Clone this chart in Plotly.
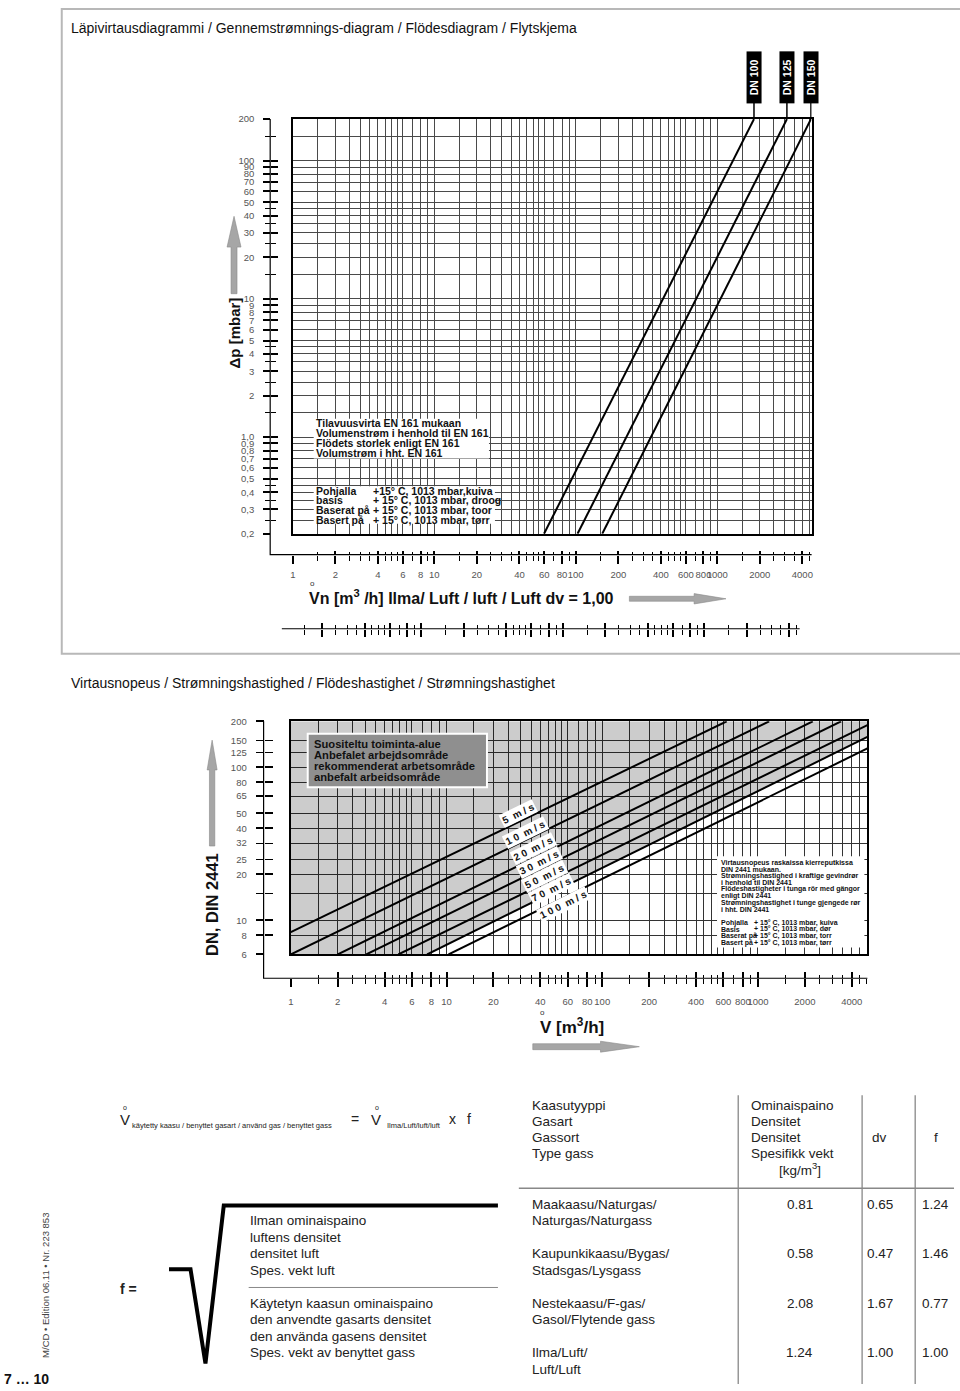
import math
import plotly.graph_objects as go

W, H = 960, 1391


def X(p):
    return p / W


def Y(p):
    return 1 - p / H


def lg(v):
    return math.log10(v)


# ------------------------------------------------------------------ data
grid_mult = [1, 1.5, 2, 2.5, 3, 3.5, 4, 4.5, 5, 5.5, 6, 7, 8, 9]
flow_decades = [1, 10, 100, 1000]
flow_major = [1, 2, 4, 6, 8, 10, 20, 40, 60, 80, 100, 200, 400, 600, 800, 1000, 2000, 4000]
flow_labels = ['1', '2', '4', '6', '8', '10', '20', '40', '60', '80', '100', '200',
               '400', '600', '800', '1000', '2000', '4000']

dp_mult = [1, 1.5, 2, 2.5, 3, 3.5, 4, 4.5, 5, 6, 7, 8, 9]
dp_decades = [0.1, 1, 10, 100]
dp_major = [200, 100, 90, 80, 70, 60, 50, 40, 30, 20, 10, 9, 8, 7, 6, 5, 4, 3, 2,
            1, 0.9, 0.8, 0.7, 0.6, 0.5, 0.4, 0.3, 0.2]
dp_labels = ['200', '100', '90', '80', '70', '60', '50', '40', '30', '20', '10', '9', '8',
             '7', '6', '5', '4', '3', '2', '1,0', '0,9', '0,8', '0,7', '0,6', '0,5', '0,4',
             '0,3', '0,2']
dp_minor = [150, 45, 35, 25, 15, 4.5, 3.5, 2.5, 1.5, 0.45, 0.35, 0.25]
dp_range = [0.2, 200]
top_flow_range = [1, 4650]

dn_names = ['DN 100', 'DN 125', 'DN 150']
dn_dp = [0.2, 200]
dn_flow_low = [59.7, 103, 154]
dn_flow_high = [1820, 3110, 4600]

# velocity chart
bot_flow_range = [1, 5040]
dn_size_range = [6, 200]
dn_size_labels = [200, 150, 125, 100, 80, 65, 50, 40, 32, 25, 20, 10, 8, 6]
dn_size_thick = [200, 100, 80, 65, 50, 40, 20, 10, 8, 6]
dn_size_thin = [150, 125, 32, 25, 15]
dn_size_grid = [150, 125, 100, 80, 65, 50, 40, 32, 25, 20, 15, 10, 8]

vel_names = ['5 m/s', '10 m/s', '20 m/s', '30 m/s', '50 m/s', '70 m/s', '100 m/s']
vel_flow_start = [1.0, 1.0, 2.0, 3.05, 4.9, 7.5, 10.3]
vel_dn_start = [8.4, 6, 6, 6, 6, 6, 6]
vel_flow_end = [630, 1180, 2250, 3420, 5040, 5040, 5040]
vel_dn_end = [200, 200, 200, 200, 189, 158, 133]
recommended_limit = 5  # index of velocity line bounding the shaded area

# gas table
gas_names = [['Maakaasu/Naturgas/', 'Naturgas/Naturgass'],
             ['Kaupunkikaasu/Bygas/', 'Stadsgas/Lysgass'],
             ['Nestekaasu/F-gas/', 'Gasol/Flytende gass'],
             ['Ilma/Luft/', 'Luft/Luft']]
gas_density = ['0.81', '0.58', '2.08', '1.24']
gas_dv = ['0.65', '0.47', '1.67', '1.00']
gas_f = ['1.24', '1.46', '0.77', '1.00']

# ------------------------------------------------------------------ helpers
FONT = 'Liberation Sans, Arial, Helvetica, sans-serif'
GRID = '#4a4a4a'
TICKFONT = dict(family=FONT, size=9.5, color='#555555')


def grid_values(decades, mult, lo, hi):
    out = []
    for d in decades:
        for m in mult:
            v = round(m * d, 6)
            if lo - 1e-9 <= v <= hi + 1e-9:
                out.append(v)
    return sorted(set(out))


def minus(a, b):
    bs = {round(v, 6) for v in b}
    return [v for v in a if round(v, 6) not in bs]


layout = dict(width=W, height=H, margin=dict(l=0, r=0, t=0, b=0),
              paper_bgcolor='white', plot_bgcolor='rgba(0,0,0,0)', showlegend=False,
              font=dict(family=FONT, color='#222'))
traces = []


def dummy(xa, ya):
    traces.append(go.Scatter(x=[None], y=[None], xaxis=xa, yaxis=ya, mode='markers',
                             hoverinfo='skip', showlegend=False))


def tick_axis(rng, pos, major, minor, direction, lmaj, lmin, side, overlay=None,
              domain=None, typ='log'):
    d = dict(type=typ, range=rng, anchor='free', position=pos, side=side,
             tickmode='array', tickvals=major, ticks=direction, ticklen=lmaj, tickwidth=2,
             tickcolor='black', showticklabels=False, showgrid=False, zeroline=False,
             showline=False,
             minor=dict(tickmode='array', tickvals=minor, ticks=direction, ticklen=lmin,
                        tickwidth=1, tickcolor='black', showgrid=False))
    if overlay:
        d['overlaying'] = overlay
    if domain:
        d['domain'] = domain
    return d


def label_axis(rng, pos, vals, texts, offset, side, overlay):
    return dict(type='log', range=rng, anchor='free', position=pos, overlaying=overlay,
                side=side, tickmode='array', tickvals=vals, ticktext=texts, ticks='outside',
                ticklen=offset, tickcolor='rgba(0,0,0,0)', showgrid=False, zeroline=False,
                showline=False, tickfont=TICKFONT, tickangle=0)


def main_axis(domain, rng, grid, anchor, gw=1, gc=GRID):
    return dict(domain=domain, type='log', range=rng, anchor=anchor, tickmode='array',
                tickvals=grid, showticklabels=False, ticks='', showgrid=True,
                gridcolor=gc, gridwidth=gw, showline=True, mirror=True, linecolor='black',
                linewidth=2, zeroline=False)


# ------------------------------------------------------------------ top chart
top_x_rng = [lg(top_flow_range[0]), lg(top_flow_range[1])]
top_y_rng = [lg(dp_range[0]), lg(dp_range[1])]
top_x_grid = grid_values(flow_decades, grid_mult, *top_flow_range)
top_y_grid = grid_values(dp_decades, dp_mult, *dp_range)

layout['xaxis'] = main_axis([X(291), X(812)], top_x_rng, top_x_grid, 'y')
layout['yaxis'] = main_axis([Y(532), Y(114)], top_y_rng, top_y_grid, 'x')

top_minor_x = minus(top_x_grid, flow_major)
layout['xaxis2'] = tick_axis(top_x_rng, Y(553), flow_major, top_minor_x, 'outside', 8, 5,
                             'bottom', overlay='x')
layout['xaxis3'] = tick_axis(top_x_rng, Y(553), flow_major, top_minor_x, 'inside', 4, 3,
                             'bottom', overlay='x')
layout['xaxis4'] = label_axis(top_x_rng, Y(553), flow_major, flow_labels, 11, 'bottom', 'x')
for xa in ['x2', 'x3', 'x4']:
    dummy(xa, 'y')

layout['yaxis2'] = tick_axis(top_y_rng, X(268.3), dp_major, dp_minor, 'outside', 7, 5,
                             'left', overlay='y')
layout['yaxis3'] = tick_axis(top_y_rng, X(268.3), dp_major, dp_minor, 'inside', 7, 5,
                             'left', overlay='y')
layout['yaxis4'] = label_axis(top_y_rng, X(268.3), dp_major, dp_labels, 14, 'left', 'y')
for ya in ['y2', 'y3', 'y4']:
    dummy('x', ya)

# secondary flow ruler (natural gas, shifted by factor f)
dec_px = (812 - 291) / (top_x_rng[1] - top_x_rng[0])
shift = lg(float(gas_f[0]))
r2_left, r2_right = 278, 800
r2_rng = [(r2_left - 291) / dec_px + shift, (r2_right - 291) / dec_px + shift]
r2_vals = [v for v in top_x_grid if lg(v) <= r2_rng[1]]
r2_major = [v for v in flow_major if v in r2_vals]
r2_minor = minus(r2_vals, r2_major)
layout['yaxis5'] = dict(domain=[Y(640), Y(615)], range=[0, 1], visible=False, anchor='x5')
layout['xaxis5'] = tick_axis(r2_rng, Y(627.7), r2_major, r2_minor, 'outside', 7, 5,
                             'bottom', domain=[X(r2_left), X(r2_right)])
layout['xaxis6'] = tick_axis(r2_rng, Y(627.7), r2_major, r2_minor, 'inside', 6, 4,
                             'bottom', overlay='x5')
dummy('x5', 'y5')
dummy('x6', 'y5')

# DN lines
for i, name in enumerate(dn_names):
    traces.append(go.Scatter(x=[dn_flow_low[i], dn_flow_high[i]], y=dn_dp, xaxis='x',
                             yaxis='y', mode='lines', line=dict(color='black', width=2),
                             hoverinfo='skip', showlegend=False))

# ------------------------------------------------------------------ bottom chart
bot_x_rng = [lg(bot_flow_range[0]), lg(bot_flow_range[1])]
bot_y_rng = [lg(dn_size_range[0]), lg(dn_size_range[1])]
bot_x_grid = grid_values(flow_decades, grid_mult, *bot_flow_range)
layout['xaxis7'] = main_axis([X(289), X(868)], bot_x_rng, bot_x_grid, 'y6', gw=1.2,
                             gc='#333333')
layout['yaxis6'] = main_axis([Y(956), Y(721)], bot_y_rng, dn_size_grid, 'x7', gw=1.2,
                             gc='#333333')
bot_minor_x = minus(bot_x_grid, flow_major)
layout['xaxis8'] = tick_axis(bot_x_rng, Y(980), flow_major, bot_minor_x, 'outside', 8, 5,
                             'bottom', overlay='x7')
layout['xaxis9'] = tick_axis(bot_x_rng, Y(980), flow_major, bot_minor_x, 'inside', 6, 3,
                             'bottom', overlay='x7')
layout['xaxis10'] = label_axis(bot_x_rng, Y(980), flow_major, flow_labels, 14, 'bottom',
                               'x7')
for xa in ['x8', 'x9', 'x10']:
    dummy(xa, 'y6')
layout['yaxis7'] = tick_axis(bot_y_rng, X(261.7), dn_size_thick, dn_size_thin, 'outside',
                             8, 8, 'left', overlay='y6')
layout['yaxis8'] = tick_axis(bot_y_rng, X(261.7), dn_size_thick, dn_size_thin, 'inside',
                             8, 8, 'left', overlay='y6')
layout['yaxis9'] = label_axis(bot_y_rng, X(261.7), dn_size_labels,
                              [str(v) for v in dn_size_labels], 15, 'left', 'y6')
for ya in ['y7', 'y8', 'y9']:
    dummy('x7', ya)

# shaded recommended area (above the limiting velocity line)
k = recommended_limit
poly_x = [vel_flow_start[k], vel_flow_end[k], bot_flow_range[1], bot_flow_range[0],
          bot_flow_range[0], vel_flow_start[k]]
poly_y = [vel_dn_start[k], vel_dn_end[k], dn_size_range[1], dn_size_range[1],
          dn_size_range[0], vel_dn_start[k]]
traces.insert(0, go.Scatter(x=poly_x, y=poly_y, xaxis='x7', yaxis='y6', mode='none',
                            fill='toself', fillcolor='rgba(0,0,0,0.2)', hoverinfo='skip',
                            showlegend=False))

for i, name in enumerate(vel_names):
    traces.append(go.Scatter(x=[vel_flow_start[i], vel_flow_end[i]],
                             y=[vel_dn_start[i], vel_dn_end[i]], xaxis='x7', yaxis='y6',
                             mode='lines', line=dict(color='black', width=2),
                             hoverinfo='skip', showlegend=False))

# ------------------------------------------------------------------ shapes
shapes = []


def pline(pts, color='black', width=1, fill=None, close=False, layer='above'):
    p = 'M ' + ' L '.join(f'{X(a):.5f},{Y(b):.5f}' for a, b in pts)
    if close:
        p += ' Z'
    s = dict(type='path', path=p, xref='paper', yref='paper', layer=layer,
             line=dict(color=color, width=width))
    if fill:
        s['fillcolor'] = fill
    shapes.append(s)


def prect(x0, y0, x1, y1, fill, line='rgba(0,0,0,0)', width=0, layer='above'):
    shapes.append(dict(type='rect', xref='paper', yref='paper', x0=X(x0), x1=X(x1),
                       y0=Y(y1), y1=Y(y0), fillcolor=fill, layer=layer,
                       line=dict(color=line, width=width)))


# page frame
pline([(962, 3), (59, 3), (59, 653), (962, 653)], color='#b8b8b8', width=2)

# ruler lines
pline([(268.3, 114), (268.3, 553), (812, 553)], width=1.2)
pline([(r2_left + 2, 627.7), (r2_right, 627.7)], width=1.2)
pline([(261.7, 721), (261.7, 980), (868, 980)], width=1.2)

# DN connectors (data x on the flow axis)
for i in range(3):
    shapes.append(dict(type='line', xref='x', yref='paper', x0=dn_flow_high[i],
                       x1=dn_flow_high[i], y0=Y(114), y1=Y(97),
                       line=dict(color='black', width=1.5)))

# text boxes in top chart
prect(312, 416, 488, 456, 'white')
prect(312, 484, 494, 522, 'white')
# recommended-area label box
prect(306, 733.5, 486, 787.5, '#8f8f8f', line='white', width=2)
# right text box bottom chart
prect(717, 857, 865, 949, 'white')

# arrows
ARROW = '#a6a6a6'
pline([(629, 595), (694, 595), (694, 592.3), (726, 597.5), (694, 602.7), (694, 600),
       (629, 600)], color='#8a8a8a', width=0.6, fill=ARROW, close=True)
pline([(229, 290), (229, 243), (225, 243), (232, 212), (239, 243), (235, 243),
       (235, 290)], color='#8a8a8a', width=0.6, fill=ARROW, close=True)
pline([(207.3, 846.7), (207.3, 770), (205, 770), (210, 740), (215, 770), (212.7, 770),
       (212.7, 846.7)], color='#8a8a8a', width=0.6, fill=ARROW, close=True)
pline([(532, 1046), (600, 1046), (600, 1043.5), (639, 1049), (600, 1054.5), (600, 1052),
       (532, 1052)], color='#8a8a8a', width=0.6, fill=ARROW, close=True)

# radical sign and fraction line
pline([(166.7, 1273.3), (188.3, 1273.3), (203.3, 1368.3), (221.7, 1209), (497, 1209)],
      width=4)
pline([(246.7, 1291.7), (497, 1291.7)], color='#888888', width=1)

# table lines
for xv in [738.3, 862.7, 916]:
    pline([(xv, 1098), (xv, 1389)], color='#888888', width=1.3)
pline([(518, 1191.7), (955, 1191.7)], color='#888888', width=1.3)

# ------------------------------------------------------------------ annotations
ann = []


def text(x, y, s, size=13.5, bold=False, color='#222222', xanchor='left',
         yanchor='middle', angle=0, family=FONT, **kw):
    ann.append(dict(x=X(x), y=Y(y), xref='paper', yref='paper',
                    text=f'<b>{s}</b>' if bold else s, showarrow=False, xanchor=xanchor,
                    yanchor=yanchor, textangle=angle, borderpad=0,
                    font=dict(size=size, color=color, family=family), **kw))


text(67, 22, 'Läpivirtausdiagrammi / Gennemstrømnings-diagram / Flödesdiagram / Flytskjema',
     size=14, color='#111111')
text(67, 682, 'Virtausnopeus / Strømningshastighed / Flödeshastighet / Strømningshastighet',
     size=14, color='#111111')

# DN labels
for i, name in enumerate(dn_names):
    ann.append(dict(x=lg(dn_flow_high[i]), y=Y(71.5), xref='x', yref='paper',
                    text=f'<b>{name}</b>', showarrow=False, textangle=-90, bgcolor='black',
                    width=51, height=14, borderpad=0, xanchor='center', yanchor='middle',
                    font=dict(size=10.5, color='white', family=FONT)))

# top chart text blocks
blk1 = ['Tilavuusvirta EN 161 mukaan', 'Volumenstrøm i henhold til EN 161',
        'Flödets storlek enligt EN 161', 'Volumstrøm i hht. EN 161']
for i, s in enumerate(blk1):
    text(313.5, 420.5 + i * 9.9, s, size=10.5, bold=True, color='#111111')
blk2a = ['Pohjalla', 'basis', 'Baserat på', 'Basert på']
blk2b = ['+15° C, 1013 mbar,kuiva', '+ 15° C, 1013 mbar, droog', '+ 15° C, 1013 mbar, toor',
         '+ 15° C, 1013 mbar, tørr']
for i in range(4):
    text(313.5, 488.5 + i * 9.7, blk2a[i], size=10.5, bold=True, color='#111111')
    text(371, 488.5 + i * 9.7, blk2b[i], size=10.5, bold=True, color='#111111')

# axis titles
text(232, 330, 'Δp [mbar]', size=15, bold=True, xanchor='center', angle=-90,
     color='#111111')
text(306, 595.5, 'Vn [m<sup>3</sup> /h] Ilma/ Luft / luft / Luft dv = 1,00', size=16,
     bold=True, color='#111111')
text(311, 582.5, 'o', size=8, xanchor='center', color='#333333')
text(210, 906, 'DN, DIN 2441', size=16.5, bold=True, xanchor='center', angle=-90,
     color='#111111')
text(571, 1028.5, 'V [m<sup>3</sup>/h]', size=17, bold=True, xanchor='center',
     color='#111111')
text(541.5, 1014.5, 'o', size=8, xanchor='center', color='#333333')

# recommended area text
rec = ['Suositeltu toiminta-alue', 'Anbefalet arbejdsområde', 'rekommenderat arbetsområde',
       'anbefalt arbeidsområde']
for i, s in enumerate(rec):
    text(311.5, 744 + i * 10.9, s, size=11.2, bold=True, color='#111111')

# velocity labels
vel_lab_pos = [(517.5, 813.5), (525, 833), (533, 849.5), (538.5, 863.5), (543.5, 877),
               (550.5, 890.5), (563, 906)]
for i, name in enumerate(vel_names):
    num, unit = name.split(' ')
    spaced = ' '.join(num) + '  ' + ' '.join(unit)
    px_, py_ = vel_lab_pos[i]
    ann.append(dict(x=X(px_), y=Y(py_), xref='paper', yref='paper',
                    text=f'<b>{spaced}</b>', showarrow=False, textangle=-26.3,
                    bgcolor='white', borderpad=1, xanchor='center', yanchor='middle',
                    font=dict(size=10, color='#111111', family=FONT)))

# right text block
rt = ['Virtausnopeus raskaissa kierreputkissa', 'DIN 2441 mukaan.',
      'Strømningshastighed i kraftige gevindrør', 'i henhold til DIN 2441',
      'Flödeshastigheter i tunga rör med gängor', 'enligt DIN 2441',
      'Strømningshastighet i tunge gjengede rør', 'i hht. DIN 2441']
for i, s in enumerate(rt):
    text(720.5, 863.5 + i * 6.75, s, size=7, bold=True, color='#111111')
rta = ['Pohjalla', 'Basis', 'Baserat på', 'Basert på']
rtb = ['+ 15° C, 1013 mbar, kuiva', '+ 15° C, 1013 mbar, dør', '+ 15° C, 1013 mbar, torr',
       '+ 15° C, 1013 mbar, tørr']
for i in range(4):
    text(720.5, 924 + i * 6.7, rta[i], size=7, bold=True, color='#111111')
    text(752.7, 924 + i * 6.7, rtb[i], size=7, bold=True, color='#111111')

# formula
text(122.5, 1122, 'V', size=15, xanchor='center')
text(122.7, 1110.5, 'o', size=7, xanchor='center')
text(128.3, 1128.5, 'käytetty kaasu / benyttet gasart / använd gas / benyttet gass',
     size=7.5)
text(353.3, 1122, '=', size=14, xanchor='center')
text(375, 1122, 'V', size=15, xanchor='center')
text(376, 1110.5, 'o', size=7, xanchor='center')
text(385, 1128.5, 'Ilma/Luft/luft/luft', size=7.5)
text(451.7, 1122, 'x', size=14, xanchor='center')
text(467.7, 1122, 'f', size=14, xanchor='center')

text(126.5, 1293.3, 'f =', size=14, bold=True, xanchor='center')
num_lines = ['Ilman ominaispaino', 'luftens densitet', 'densitet luft', 'Spes. vekt luft']
den_lines = ['Käytetyn kaasun ominaispaino', 'den anvendte gasarts densitet',
             'den använda gasens densitet', 'Spes. vekt av benyttet gass']
for i, s in enumerate(num_lines):
    text(246.7, 1224.3 + i * 16.65, s, size=13.5)
for i, s in enumerate(den_lines):
    text(246.7, 1307.7 + i * 16.65, s, size=13.5)

text(43.3, 1290, 'M/CD • Edition 06.11 • Nr. 223 853', size=9.5, xanchor='center',
     angle=-90, color='#444444')
text(24, 1384.3, '7 … 10', size=14, bold=True, xanchor='center', color='#111111')

# table header
hdr1 = ['Kaasutyyppi', 'Gasart', 'Gassort', 'Type gass']
hdr2 = ['Ominaispaino', 'Densitet', 'Densitet', 'Spesifikk vekt']
for i in range(4):
    text(530.7, 1108.3 + i * 16, hdr1[i], size=13.5)
    text(750, 1108.3 + i * 16, hdr2[i], size=13.5)
text(800, 1172, '[kg/m<sup>3</sup>]', size=13.5, xanchor='center')
text(880, 1140.3, 'dv', size=13.5, xanchor='center')
text(936.5, 1140.3, 'f', size=13.5, xanchor='center')

for r in range(4):
    y0 = 1207.7 + r * 50
    text(530, y0, gas_names[r][0], size=13.5)
    text(530, y0 + 16.5, gas_names[r][1], size=13.5)
    text(800, y0, gas_density[r], size=13.5, xanchor='center')
    text(881, y0, gas_dv[r], size=13.5, xanchor='center')
    text(936, y0, gas_f[r], size=13.5, xanchor='center')

layout['shapes'] = shapes
layout['annotations'] = ann

fig = go.Figure(data=traces, layout=layout)
fig.write_html('out.html')
